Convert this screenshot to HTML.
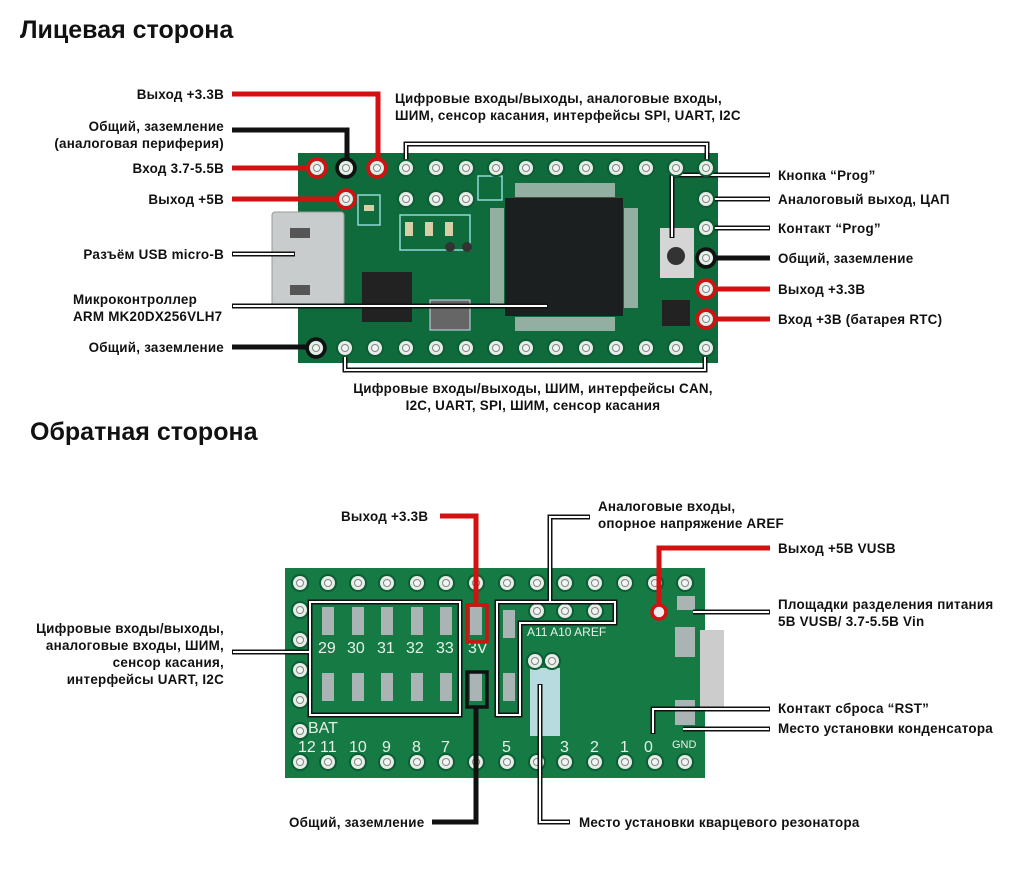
<!DOCTYPE html>
<html><head><meta charset="utf-8"><style>
html,body{margin:0;padding:0;background:#fff;}
svg{display:block;}
text{font-family:"Liberation Sans",sans-serif;font-weight:bold;fill:#111;}
.l{font-size:13.4px;letter-spacing:0.25px;}
.t{font-size:25px;}
.p{fill:#e8f0ea;font-weight:normal;font-size:16px;}
</style></head><body>
<svg width="1024" height="882" viewBox="0 0 1024 882" xmlns="http://www.w3.org/2000/svg">
<defs>
<g id="pin"><circle r="9" fill="#0b5d33"/><circle r="7" fill="#e8ece8"/><circle r="4" fill="#7a8a80"/><circle r="3" fill="#f4f4f4"/></g>
</defs>
<text class="t" x="20" y="38">Лицевая сторона</text>
<text class="t" x="30" y="440">Обратная сторона</text>

<rect x="298" y="153" width="420" height="210" fill="#0f6b3c"/>
<rect x="272" y="212" width="72" height="96" fill="#c9cccd" stroke="#999" rx="3"/>
<rect x="290" y="228" width="20" height="10" fill="#555"/>
<rect x="290" y="285" width="20" height="10" fill="#555"/>
<rect x="505" y="198" width="118" height="118" fill="#1c1f1f"/>
<g fill="#ccc"><rect x="515" y="183" width="100" height="14" opacity=".7"/><rect x="515" y="317" width="100" height="14" opacity=".7"/><rect x="490" y="208" width="14" height="100" opacity=".7"/><rect x="624" y="208" width="14" height="100" opacity=".7"/></g>
<rect x="362" y="272" width="50" height="50" fill="#222"/>
<rect x="430" y="300" width="40" height="30" fill="#666" stroke="#cde" />
<rect x="660" y="228" width="34" height="50" fill="#d5d5d5"/>
<circle cx="676" cy="256" r="9" fill="#333"/>
<rect x="662" y="300" width="28" height="26" fill="#222"/>
<g fill="none" stroke="#8fd8d8" stroke-width="1.5"><rect x="358" y="195" width="22" height="30"/><rect x="400" y="215" width="70" height="35"/><rect x="478" y="176" width="24" height="24"/></g>
<g fill="#d8cfa8"><rect x="364" y="205" width="10" height="6"/><rect x="405" y="222" width="8" height="14"/><rect x="425" y="222" width="8" height="14"/><rect x="445" y="222" width="8" height="14"/></g>
<circle cx="450" cy="247" r="5" fill="#333"/><circle cx="467" cy="247" r="5" fill="#333"/>

<g fill="none" stroke-linejoin="miter">
<polyline points="232,94 378,94 378,168" stroke="#d41010" stroke-width="5"/>
<polyline points="232,130 347,130 347,168" stroke="#111" stroke-width="5"/>
<line x1="232" y1="168" x2="317" y2="168" stroke="#d41010" stroke-width="5"/>
<line x1="232" y1="199" x2="346" y2="199" stroke="#d41010" stroke-width="5"/>
<line x1="232" y1="347" x2="316" y2="347" stroke="#111" stroke-width="5"/>
<line x1="705" y1="258" x2="770" y2="258" stroke="#111" stroke-width="5"/>
<line x1="705" y1="289" x2="770" y2="289" stroke="#d41010" stroke-width="5"/>
<line x1="705" y1="319" x2="770" y2="319" stroke="#d41010" stroke-width="5"/>
<g stroke="#111" stroke-width="5">
<line x1="232" y1="254" x2="295" y2="254"/><line x1="232" y1="306" x2="548" y2="306"/>
<polyline points="406,168 406,144 707,144 707,168"/><polyline points="345,348 345,370 705,370 705,348"/>
<polyline points="770,175 672,175 672,238"/><line x1="705" y1="199" x2="770" y2="199"/><line x1="705" y1="228" x2="770" y2="228"/>
</g>
<g stroke="#fff" stroke-width="2">
<line x1="233" y1="254" x2="294" y2="254"/><line x1="233" y1="306" x2="547" y2="306"/>
<polyline points="406,167 406,144 707,144 707,167"/><polyline points="345,349 345,370 705,370 705,349"/>
<polyline points="769,175 672,175 672,237"/><line x1="706" y1="199" x2="769" y2="199"/><line x1="706" y1="228" x2="769" y2="228"/>
</g>
</g>
<g>
<use href="#pin" x="317" y="168"/><use href="#pin" x="346" y="168"/><use href="#pin" x="377" y="168"/>
<use href="#pin" x="406" y="168"/><use href="#pin" x="436" y="168"/><use href="#pin" x="466" y="168"/><use href="#pin" x="496" y="168"/><use href="#pin" x="526" y="168"/><use href="#pin" x="556" y="168"/><use href="#pin" x="586" y="168"/><use href="#pin" x="616" y="168"/><use href="#pin" x="646" y="168"/><use href="#pin" x="676" y="168"/><use href="#pin" x="706" y="168"/>
<use href="#pin" x="346" y="199"/><use href="#pin" x="406" y="199"/><use href="#pin" x="436" y="199"/><use href="#pin" x="466" y="199"/>
<use href="#pin" x="706" y="199"/><use href="#pin" x="706" y="228"/><use href="#pin" x="706" y="258"/><use href="#pin" x="706" y="289"/><use href="#pin" x="706" y="319"/>
<use href="#pin" x="316" y="348"/><use href="#pin" x="345" y="348"/><use href="#pin" x="375" y="348"/><use href="#pin" x="406" y="348"/><use href="#pin" x="436" y="348"/><use href="#pin" x="466" y="348"/><use href="#pin" x="496" y="348"/><use href="#pin" x="526" y="348"/><use href="#pin" x="556" y="348"/><use href="#pin" x="586" y="348"/><use href="#pin" x="616" y="348"/><use href="#pin" x="646" y="348"/><use href="#pin" x="676" y="348"/><use href="#pin" x="706" y="348"/>
</g>
<g fill="none" stroke-width="3.5">
<circle cx="317" cy="168" r="9" stroke="#d41010"/><circle cx="377" cy="168" r="9" stroke="#d41010"/><circle cx="346" cy="199" r="9" stroke="#d41010"/>
<circle cx="346" cy="168" r="9" stroke="#111"/><circle cx="316" cy="348" r="9" stroke="#111"/>
<circle cx="706" cy="258" r="9" stroke="#111"/><circle cx="706" cy="289" r="9" stroke="#d41010"/><circle cx="706" cy="319" r="9" stroke="#d41010"/>
</g>
<g class="l">
<text x="224" y="99" text-anchor="end">Выход +3.3В</text>
<text x="224" y="131" text-anchor="end">Общий, заземление</text>
<text x="224" y="148" text-anchor="end">(аналоговая периферия)</text>
<text x="224" y="173" text-anchor="end">Вход 3.7-5.5В</text>
<text x="224" y="204" text-anchor="end">Выход +5В</text>
<text x="224" y="259" text-anchor="end">Разъём USB micro-B</text>
<text x="73" y="304">Микроконтроллер</text>
<text x="73" y="321">ARM MK20DX256VLH7</text>
<text x="224" y="352" text-anchor="end">Общий, заземление</text>
<text x="395" y="103">Цифровые входы/выходы, аналоговые входы,</text>
<text x="395" y="120">ШИМ, сенсор касания, интерфейсы SPI, UART, I2C</text>
<text x="778" y="180">Кнопка “Prog”</text>
<text x="778" y="204">Аналоговый выход, ЦАП</text>
<text x="778" y="233">Контакт “Prog”</text>
<text x="778" y="263">Общий, заземление</text>
<text x="778" y="294">Выход +3.3В</text>
<text x="778" y="324">Вход +3В (батарея RTC)</text>
<text x="533" y="393" text-anchor="middle">Цифровые входы/выходы, ШИМ, интерфейсы CAN,</text>
<text x="533" y="410" text-anchor="middle">I2C, UART, SPI, ШИМ, сенсор касания</text>
</g>

<rect x="285" y="568" width="420" height="210" fill="#167a45"/>
<rect x="700" y="630" width="24" height="80" fill="#ccc"/>
<rect x="530" y="668" width="30" height="68" fill="#b8dbe0"/>
<g fill="#aab4b4">
<rect x="322" y="607" width="12" height="28"/><rect x="352" y="607" width="12" height="28"/><rect x="381" y="607" width="12" height="28"/><rect x="411" y="607" width="12" height="28"/><rect x="440" y="607" width="12" height="28"/><rect x="470" y="607" width="12" height="28"/><rect x="503" y="610" width="12" height="28"/>
<rect x="322" y="673" width="12" height="28"/><rect x="352" y="673" width="12" height="28"/><rect x="381" y="673" width="12" height="28"/><rect x="411" y="673" width="12" height="28"/><rect x="440" y="673" width="12" height="28"/><rect x="470" y="673" width="12" height="28"/><rect x="503" y="673" width="12" height="28"/>
<rect x="675" y="627" width="20" height="30"/><rect x="675" y="700" width="20" height="25"/><rect x="677" y="596" width="18" height="14"/>
</g>
<g>
<text class="p" x="318" y="653">29</text><text class="p" x="347" y="653">30</text><text class="p" x="377" y="653">31</text><text class="p" x="406" y="653">32</text><text class="p" x="436" y="653">33</text><text class="p" x="468" y="653">3V</text>
<text class="p" x="527" y="636" style="font-size:12px">A11  A10  AREF</text>
<text class="p" x="308" y="733">BAT</text>
<text class="p" x="298" y="752">12</text><text class="p" x="320" y="752">11</text><text class="p" x="349" y="752">10</text><text class="p" x="382" y="752">9</text><text class="p" x="412" y="752">8</text><text class="p" x="441" y="752">7</text><text class="p" x="502" y="752">5</text><text class="p" x="560" y="752">3</text><text class="p" x="590" y="752">2</text><text class="p" x="620" y="752">1</text><text class="p" x="644" y="752">0</text>
<text class="p" x="672" y="748" style="font-size:11px">GND</text>
</g>
<g>
<use href="#pin" x="300" y="583"/><use href="#pin" x="328" y="583"/><use href="#pin" x="358" y="583"/><use href="#pin" x="387" y="583"/><use href="#pin" x="417" y="583"/><use href="#pin" x="446" y="583"/><use href="#pin" x="476" y="583"/><use href="#pin" x="507" y="583"/><use href="#pin" x="537" y="583"/><use href="#pin" x="565" y="583"/><use href="#pin" x="595" y="583"/><use href="#pin" x="625" y="583"/><use href="#pin" x="655" y="583"/><use href="#pin" x="685" y="583"/>
<use href="#pin" x="300" y="610"/><use href="#pin" x="300" y="640"/><use href="#pin" x="300" y="670"/><use href="#pin" x="300" y="700"/><use href="#pin" x="300" y="731"/>
<use href="#pin" x="537" y="611"/><use href="#pin" x="565" y="611"/><use href="#pin" x="595" y="611"/>
<use href="#pin" x="535" y="661"/><use href="#pin" x="552" y="661"/>
<use href="#pin" x="300" y="762"/><use href="#pin" x="328" y="762"/><use href="#pin" x="358" y="762"/><use href="#pin" x="387" y="762"/><use href="#pin" x="417" y="762"/><use href="#pin" x="446" y="762"/><use href="#pin" x="476" y="762"/><use href="#pin" x="507" y="762"/><use href="#pin" x="537" y="762"/><use href="#pin" x="565" y="762"/><use href="#pin" x="595" y="762"/><use href="#pin" x="625" y="762"/><use href="#pin" x="655" y="762"/><use href="#pin" x="685" y="762"/>
</g>
<g fill="none">
<polyline points="440,516 476,516 476,605" stroke="#d41010" stroke-width="5"/>
<rect x="467" y="605" width="20" height="37" stroke="#d41010" stroke-width="3.5"/>
<polyline points="770,548 659,548 659,605" stroke="#d41010" stroke-width="5"/>
<circle cx="659" cy="612" r="7" stroke="#d41010" stroke-width="3.5" fill="#eee"/>
<rect x="467" y="672" width="20" height="35" stroke="#111" stroke-width="3.5"/>
<polyline points="432,822 476,822 476,707" stroke="#111" stroke-width="5"/>
<g stroke="#111" stroke-width="5">
<rect x="310" y="602" width="150" height="113"/>
<polygon points="497,602 615,602 615,623 520,623 520,715 497,715"/>
<polyline points="590,517 550,517 550,602"/>
<line x1="232" y1="652" x2="310" y2="652"/>
<line x1="693" y1="612" x2="770" y2="612"/>
<polyline points="770,709 653,709 653,734"/>
<line x1="683" y1="729" x2="770" y2="729"/>
<polyline points="570,822 540,822 540,684"/>
</g>
<g stroke="#fff" stroke-width="2">
<rect x="310" y="602" width="150" height="113"/>
<polygon points="497,602 615,602 615,623 520,623 520,715 497,715"/>
<polyline points="589,517 550,517 550,602"/>
<line x1="233" y1="652" x2="310" y2="652"/>
<line x1="693" y1="612" x2="769" y2="612"/>
<polyline points="769,709 653,709 653,733"/>
<line x1="683" y1="729" x2="769" y2="729"/>
<polyline points="569,822 540,822 540,685"/>
</g>
</g>
<g class="l">
<text x="341" y="521">Выход +3.3В</text>
<text x="598" y="511">Аналоговые входы,</text>
<text x="598" y="528">опорное напряжение AREF</text>
<text x="778" y="553">Выход +5В VUSB</text>
<text x="778" y="609">Площадки разделения питания</text>
<text x="778" y="626">5В VUSB/ 3.7-5.5В Vin</text>
<text x="224" y="633" text-anchor="end">Цифровые входы/выходы,</text>
<text x="224" y="650" text-anchor="end">аналоговые входы, ШИМ,</text>
<text x="224" y="667" text-anchor="end">сенсор касания,</text>
<text x="224" y="684" text-anchor="end">интерфейсы UART, I2C</text>
<text x="778" y="713">Контакт сброса “RST”</text>
<text x="778" y="733">Место установки конденсатора</text>
<text x="289" y="827">Общий, заземление</text>
<text x="579" y="827">Место установки кварцевого резонатора</text>
</g>
</svg>
</body></html>
